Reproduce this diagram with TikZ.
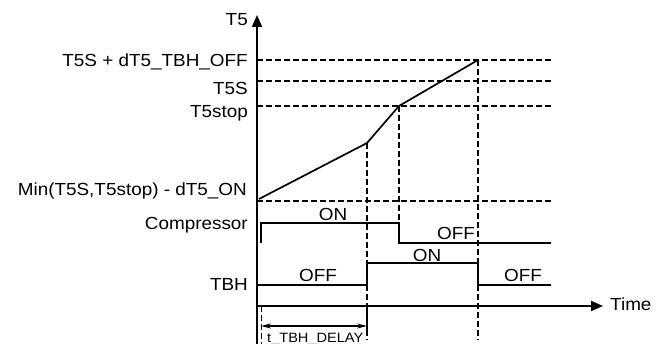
\documentclass[tikz,border=0pt]{standalone}
\usepackage{fontspec}
\setmainfont{Liberation Sans}[FakeStretch=1.08]
\usetikzlibrary{arrows.meta,positioning}

\begin{document}
\begin{tikzpicture}[
  x=1pt,y=-1pt,
  every node/.style={font=\fontsize{17.5}{19}\selectfont,inner sep=0pt},
  lbl/.style={anchor=base east},
  val/.style={anchor=base},
  guide/.style={line width=1.4pt,dash pattern=on 6pt off 3pt},
  sig/.style={line width=1.7pt},
  axis/.style={line width=1.9pt,-{Triangle[length=12pt,width=10pt]}}
]
  \useasboundingbox (0,0) rectangle (666,344);

  \coordinate (ybot) at (257,344);
  \coordinate (ytop) at (257,15);
  \coordinate (o)    at (257,306);
  \coordinate (xend) at (603,306);
  \draw[axis] (ybot)--(ytop);
  \draw[axis] (o)--(xend);

  \node[lbl] (lt5)   at (248,26)  {T5};
  \node[lbl] (lhi)   at (248,67)  {T5S + dT5\_TBH\_OFF};
  \node[lbl] (ls)    at (248,95)  {T5S};
  \node[lbl] (lstop) at (248,118) {T5stop};
  \node[lbl] (lmin)  at (247,196) {Min(T5S,T5stop) - dT5\_ON};
  \node[lbl] (lcomp) at (248,230) {Compressor};
  \node[lbl] (ltbh)  at (248,291) {TBH};
  \node[anchor=base west] (ltime) at (610,311) {Time};

  \coordinate (hi-l)   at (257,60);  \coordinate (hi-r)   at (551,60);
  \coordinate (s-l)    at (257,81);  \coordinate (s-r)    at (551,81);
  \coordinate (stop-l) at (257,106); \coordinate (stop-r) at (551,106);
  \coordinate (min-l)  at (257,201); \coordinate (min-r)  at (551,201);
  \draw[guide] (hi-l)--(hi-r);
  \draw[guide] (s-l)--(s-r);
  \draw[guide] (stop-l)--(stop-r);
  \draw[guide] (min-l)--(min-r);

  \coordinate (c0) at (259,199);
  \coordinate (c1) at (367,143);
  \coordinate (c2) at (399,106);
  \coordinate (c3) at (478,60);
  \draw[sig] (c0)--(c1)--(c2)--(c3);

  \coordinate (k0) at (261,243);
  \coordinate (k1) at (261,223);
  \coordinate (k2) at (399,223);
  \coordinate (k3) at (399,243);
  \coordinate (k4) at (551,243);
  \draw[sig] (k0)--(k1)--(k2)--(k3)--(k4);

  \coordinate (b0) at (257,285);
  \coordinate (b1) at (367,285);
  \coordinate (b2) at (367,263);
  \coordinate (b3) at (478,263);
  \coordinate (b4) at (478,285);
  \coordinate (b5) at (551,285);
  \draw[sig] (b0)--(b1)--(b2)--(b3)--(b4)--(b5);

  \coordinate (v1) at (367,340);
  \coordinate (v3) at (478,340);
  \draw[guide] (c1)--(b2);
  \draw[guide] (b1)--(v1);
  \draw[guide] (c2)--(k2);
  \draw[guide] (c3)--(v3);

  \node[val] (kon)   at (333,221) {ON};
  \node[val] (koff)  at (456,240) {OFF};
  \node[val] (boff1) at (318,282) {OFF};
  \node[val] (bon)   at (427,262) {ON};
  \node[val] (boff2) at (523,282) {OFF};

  \coordinate (e0) at (261,306); \coordinate (e0b) at (261,344);
  \coordinate (e1) at (367,306); \coordinate (e1b) at (367,330);
  \coordinate (d0) at (261,326); \coordinate (d1) at (367,326);
  \draw[guide,line width=0.9pt] (e0)--(e0b);
  \draw[line width=1.4pt] (e1)--(e1b);
  \draw[line width=1.4pt,{Stealth[length=10pt,width=5pt]}-{Stealth[length=10pt,width=5pt]}] (d0)--(d1);
  \node[anchor=base west,font=\fontsize{13.5}{14}\selectfont] (ldelay) at (267,342) {t\_TBH\_DELAY};
\end{tikzpicture}
\end{document}
